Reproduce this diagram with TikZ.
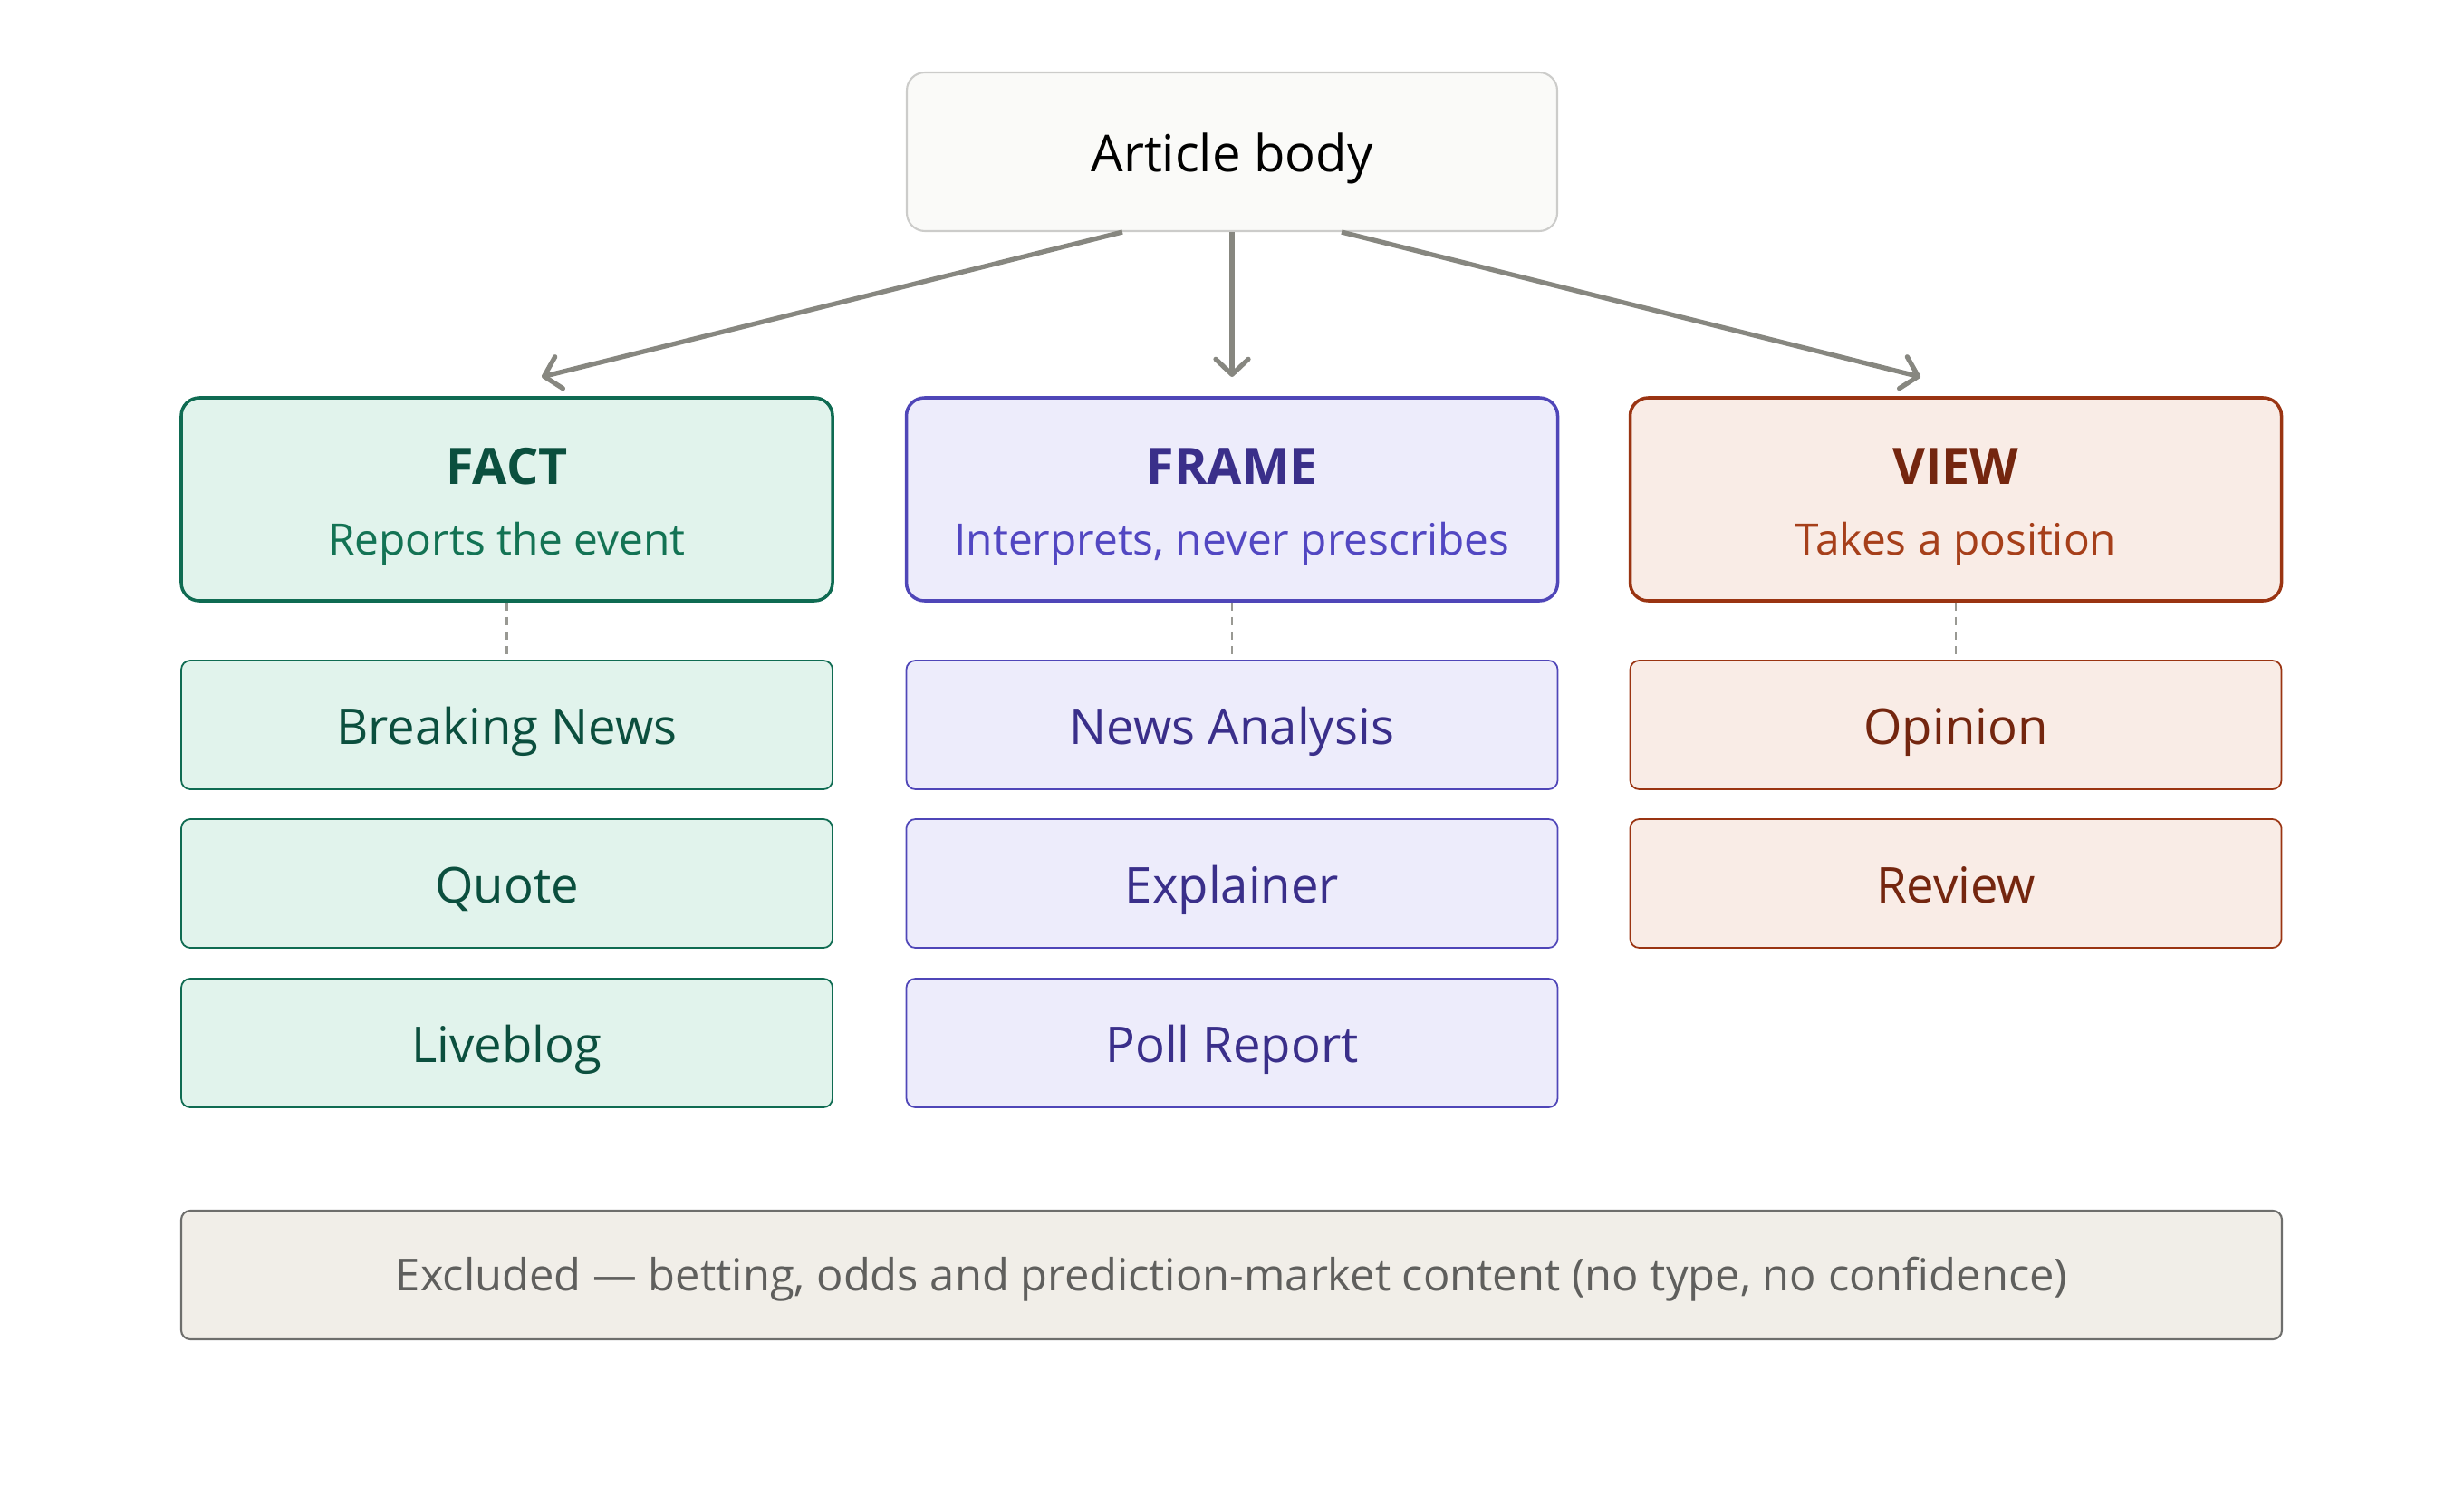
\documentclass[tikz,border=0pt]{standalone}
\usepackage{fontspec}
\setmainfont{Open Sans}
\usepackage{tikz}
\usetikzlibrary{arrows.meta,positioning,calc}

\definecolor{factline}{HTML}{0F6B52}
\definecolor{factfill}{HTML}{E1F3EC}
\definecolor{facttext}{HTML}{0B4F3E}
\definecolor{factsub}{HTML}{137354}
\definecolor{frameline}{HTML}{4F46B8}
\definecolor{framefill}{HTML}{EDECFB}
\definecolor{frametext}{HTML}{3A2F8A}
\definecolor{framesub}{HTML}{5247C2}
\definecolor{viewline}{HTML}{9A3412}
\definecolor{viewfill}{HTML}{F9ECE6}
\definecolor{viewtext}{HTML}{74260F}
\definecolor{viewsub}{HTML}{A63F1A}
\definecolor{bodyfill}{HTML}{FAFAF8}
\definecolor{bodyline}{HTML}{CCCCCA}
\definecolor{exclfill}{HTML}{F1EEE8}
\definecolor{exclline}{HTML}{6E6E6C}
\definecolor{excltext}{HTML}{5F5F5D}
\definecolor{arrowgray}{HTML}{878780}

\newcommand{\grouptext}[4]{%
  \textcolor{#1}{\fontsize{15.8}{18}\selectfont\bfseries\rule{0pt}{16pt}#2}\\[10pt]
  \textcolor{#3}{\fontsize{13.6}{16}\selectfont #4}}

\begin{document}
\begin{tikzpicture}[
  group/.style={draw, line width=1pt, rounded corners=0.2cm,
    minimum width=7.19cm, minimum height=2.24cm, align=center},
  item/.style={draw, line width=0.5pt, rounded corners=0.1cm,
    minimum width=7.19cm, minimum height=1.42cm,
    text height=15.8pt, text depth=3.7pt,
    font=\fontsize{15.5}{18}\selectfont},
  feed/.style={arrowgray, line width=1.5pt,
    -{Straight Barb[length=1.7mm, width=3.6mm, round]}},
  link/.style={arrowgray!85, line width=0.6pt, dash pattern=on 2.6pt off 2pt}
]
\useasboundingbox (0,0) rectangle (27.2,-16.4);

% Source
\node[draw=bodyline, fill=bodyfill, line width=0.6pt, rounded corners=0.2cm,
  minimum width=7.18cm, minimum height=1.75cm,
  text height=16.2pt, text depth=3.8pt,
  font=\fontsize{16}{19}\selectfont] (body) at (13.60,-1.675) {Article body};

% Groups
\node[group, draw=factline, fill=factfill] (fact) at (5.595,-5.51)
  {\grouptext{facttext}{FACT}{factsub}{Reports the event}};
\node[group, draw=frameline, fill=framefill] (frame) at (13.60,-5.51)
  {\grouptext{frametext}{FRAME}{framesub}{Interprets, never prescribes}};
\node[group, draw=viewline, fill=viewfill] (view) at (21.59,-5.51)
  {\grouptext{viewtext}{VIEW}{viewsub}{Takes a position}};

% Types
\node[item, draw=factline, fill=factfill, text=facttext] (news) at (5.595,-8.00) {Breaking News};
\node[item, draw=factline, fill=factfill, text=facttext] (quote) at (5.595,-9.75) {Quote};
\node[item, draw=factline, fill=factfill, text=facttext] (live) at (5.595,-11.51) {Liveblog};
\node[item, draw=frameline, fill=framefill, text=frametext] (analysis) at (13.60,-8.00) {News Analysis};
\node[item, draw=frameline, fill=framefill, text=frametext] (explain) at (13.60,-9.75) {Explainer};
\node[item, draw=frameline, fill=framefill, text=frametext] (poll) at (13.60,-11.51) {Poll Report};
\node[item, draw=viewline, fill=viewfill, text=viewtext] (opinion) at (21.59,-8.00) {Opinion};
\node[item, draw=viewline, fill=viewfill, text=viewtext] (review) at (21.59,-9.75) {Review};

% Excluded
\node[draw=exclline, fill=exclfill, line width=0.6pt, rounded corners=0.1cm,
  minimum width=23.19cm, minimum height=1.42cm, text=excltext,
  text height=13.4pt, text depth=3.3pt,
  font=\fontsize{13.9}{16}\selectfont] (excl) at (13.595,-14.07)
  {Excluded — betting, odds and prediction-market content (no type, no confidence)};

% Arrows
\coordinate (tofact) at (5.98,-4.16);
\coordinate (toframe) at (13.60,-4.16);
\coordinate (toview) at (21.20,-4.16);
\draw[feed] ([xshift=-1.21cm]body.south) -- (tofact);
\draw[feed] (body.south) -- (toframe);
\draw[feed] ([xshift=1.21cm]body.south) -- (toview);

% Dashed links
\draw[link] (fact) -- (news);
\draw[link] (frame) -- (analysis);
\draw[link] (view) -- (opinion);

\end{tikzpicture}
\end{document}
